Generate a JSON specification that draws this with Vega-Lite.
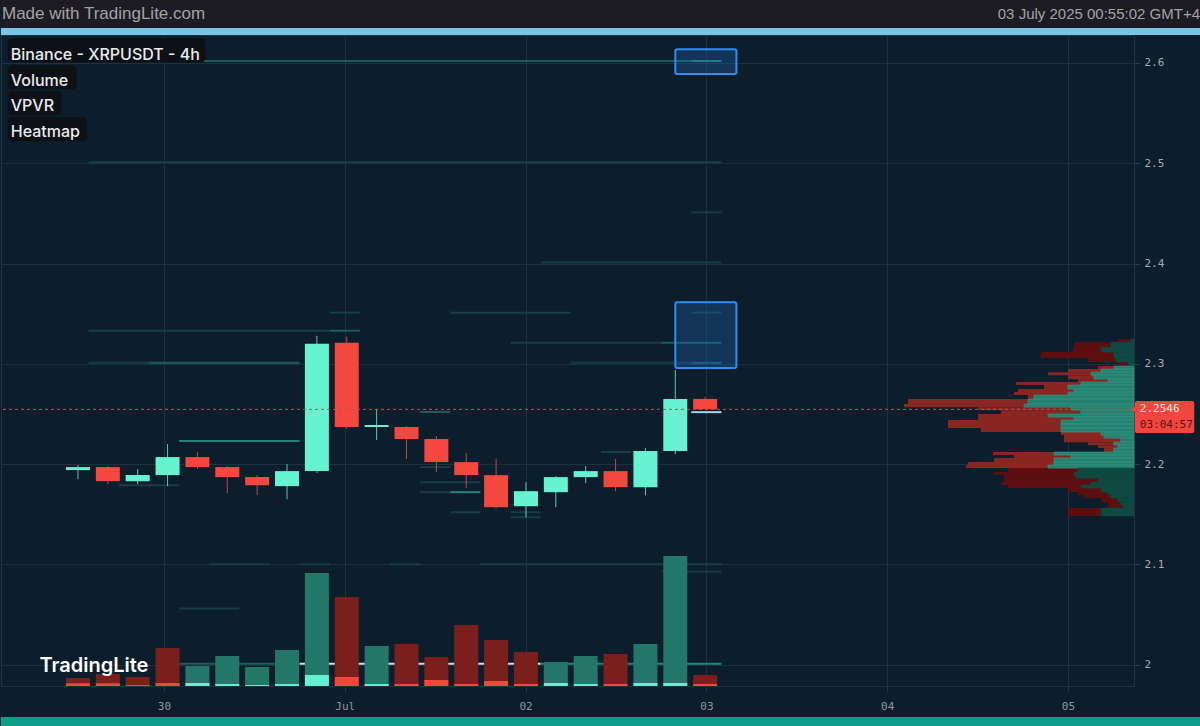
{
  "$schema": "https://vega.github.io/schema/vega-lite/v6.json",
  "background": "#0c1e2b",
  "padding": 0,
  "spacing": 0,
  "bounds": "flush",
  "config": {"view": {"stroke": null}},
  "datasets": {
    "candles": [
      {"t": "2025-06-29T12:00:00Z", "o": 2.194, "h": 2.199, "l": 2.185, "c": 2.197, "vol": 12.3, "base": 4.1, "vd": "sell"},
      {"t": "2025-06-29T16:00:00Z", "o": 2.197, "h": 2.198, "l": 2.180, "c": 2.183, "vol": 18.4, "base": 4.1, "vd": "sell"},
      {"t": "2025-06-29T20:00:00Z", "o": 2.183, "h": 2.195, "l": 2.180, "c": 2.189, "vol": 13.8, "base": 1.5, "vd": "sell"},
      {"t": "2025-06-30T00:00:00Z", "o": 2.189, "h": 2.220, "l": 2.178, "c": 2.207, "vol": 58.4, "base": 4.6, "vd": "sell"},
      {"t": "2025-06-30T04:00:00Z", "o": 2.207, "h": 2.212, "l": 2.195, "c": 2.197, "vol": 30.7, "base": 4.6, "vd": "buy"},
      {"t": "2025-06-30T08:00:00Z", "o": 2.197, "h": 2.198, "l": 2.171, "c": 2.187, "vol": 46.1, "base": 3.1, "vd": "buy"},
      {"t": "2025-06-30T12:00:00Z", "o": 2.187, "h": 2.189, "l": 2.169, "c": 2.179, "vol": 29.2, "base": 1.5, "vd": "buy"},
      {"t": "2025-06-30T16:00:00Z", "o": 2.178, "h": 2.200, "l": 2.165, "c": 2.193, "vol": 55.3, "base": 3.1, "vd": "buy"},
      {"t": "2025-06-30T20:00:00Z", "o": 2.193, "h": 2.328, "l": 2.191, "c": 2.320, "vol": 173.6, "base": 16.9, "vd": "buy"},
      {"t": "2025-07-01T00:00:00Z", "o": 2.321, "h": 2.327, "l": 2.235, "c": 2.237, "vol": 136.7, "base": 13.8, "vd": "sell"},
      {"t": "2025-07-01T04:00:00Z", "o": 2.237, "h": 2.255, "l": 2.224, "c": 2.239, "vol": 61.4, "base": 3.1, "vd": "buy"},
      {"t": "2025-07-01T08:00:00Z", "o": 2.237, "h": 2.238, "l": 2.205, "c": 2.225, "vol": 64.5, "base": 3.1, "vd": "sell"},
      {"t": "2025-07-01T12:00:00Z", "o": 2.225, "h": 2.228, "l": 2.192, "c": 2.202, "vol": 44.5, "base": 9.2, "vd": "sell"},
      {"t": "2025-07-01T16:00:00Z", "o": 2.202, "h": 2.211, "l": 2.176, "c": 2.189, "vol": 93.7, "base": 3.1, "vd": "sell"},
      {"t": "2025-07-01T20:00:00Z", "o": 2.189, "h": 2.205, "l": 2.156, "c": 2.157, "vol": 70.7, "base": 7.7, "vd": "sell"},
      {"t": "2025-07-02T00:00:00Z", "o": 2.158, "h": 2.182, "l": 2.147, "c": 2.173, "vol": 52.2, "base": 3.1, "vd": "sell"},
      {"t": "2025-07-02T04:00:00Z", "o": 2.172, "h": 2.188, "l": 2.157, "c": 2.187, "vol": 36.9, "base": 4.6, "vd": "buy"},
      {"t": "2025-07-02T08:00:00Z", "o": 2.187, "h": 2.198, "l": 2.181, "c": 2.193, "vol": 46.1, "base": 3.1, "vd": "buy"},
      {"t": "2025-07-02T12:00:00Z", "o": 2.193, "h": 2.205, "l": 2.173, "c": 2.177, "vol": 49.2, "base": 3.1, "vd": "sell"},
      {"t": "2025-07-02T16:00:00Z", "o": 2.177, "h": 2.216, "l": 2.169, "c": 2.213, "vol": 64.5, "base": 4.6, "vd": "buy"},
      {"t": "2025-07-02T20:00:00Z", "o": 2.213, "h": 2.294, "l": 2.210, "c": 2.265, "vol": 199.7, "base": 4.6, "vd": "buy"},
      {"t": "2025-07-03T00:00:00Z", "o": 2.265, "h": 2.267, "l": 2.2546, "c": 2.2546, "vol": 16.9, "base": 3.1, "vd": "sell"}
    ],
    "heat": [
      {"p": 2.602, "t0": "2025-06-29T14:00:00Z", "t1": "2025-07-02T22:00:00Z", "c": "m"},
      {"p": 2.602, "t0": "2025-07-02T22:00:00Z", "t1": "2025-07-03T02:00:00Z", "c": "b"},
      {"p": 2.501, "t0": "2025-06-29T14:00:00Z", "t1": "2025-07-03T02:00:00Z", "c": "f"},
      {"p": 2.451, "t0": "2025-07-02T22:00:00Z", "t1": "2025-07-03T02:00:00Z", "c": "f"},
      {"p": 2.401, "t0": "2025-07-02T02:00:00Z", "t1": "2025-07-03T02:00:00Z", "c": "f"},
      {"p": 2.351, "t0": "2025-07-01T14:00:00Z", "t1": "2025-07-02T06:00:00Z", "c": "f"},
      {"p": 2.351, "t0": "2025-07-02T22:00:00Z", "t1": "2025-07-03T02:00:00Z", "c": "f"},
      {"p": 2.351, "t0": "2025-06-30T22:00:00Z", "t1": "2025-07-01T02:00:00Z", "c": "f"},
      {"p": 2.333, "t0": "2025-06-29T14:00:00Z", "t1": "2025-06-30T22:00:00Z", "c": "f"},
      {"p": 2.333, "t0": "2025-06-30T22:00:00Z", "t1": "2025-07-01T02:00:00Z", "c": "m"},
      {"p": 2.321, "t0": "2025-07-01T22:00:00Z", "t1": "2025-07-02T18:00:00Z", "c": "f"},
      {"p": 2.321, "t0": "2025-07-02T18:00:00Z", "t1": "2025-07-03T02:00:00Z", "c": "m"},
      {"p": 2.301, "t0": "2025-06-29T14:00:00Z", "t1": "2025-06-29T22:00:00Z", "c": "f"},
      {"p": 2.301, "t0": "2025-06-29T22:00:00Z", "t1": "2025-06-30T18:00:00Z", "c": "m"},
      {"p": 2.301, "t0": "2025-07-02T06:00:00Z", "t1": "2025-07-02T22:00:00Z", "c": "f"},
      {"p": 2.301, "t0": "2025-07-02T22:00:00Z", "t1": "2025-07-03T02:00:00Z", "c": "m"},
      {"p": 2.223, "t0": "2025-06-30T02:00:00Z", "t1": "2025-06-30T18:00:00Z", "c": "b"},
      {"p": 2.179, "t0": "2025-06-29T18:00:00Z", "t1": "2025-06-30T02:00:00Z", "c": "f"},
      {"p": 2.252, "t0": "2025-07-01T10:00:00Z", "t1": "2025-07-01T14:00:00Z", "c": "m"},
      {"p": 2.197, "t0": "2025-07-01T10:00:00Z", "t1": "2025-07-01T14:00:00Z", "c": "f"},
      {"p": 2.182, "t0": "2025-07-01T10:00:00Z", "t1": "2025-07-01T18:00:00Z", "c": "f"},
      {"p": 2.172, "t0": "2025-07-01T10:00:00Z", "t1": "2025-07-01T14:00:00Z", "c": "f"},
      {"p": 2.172, "t0": "2025-07-01T14:00:00Z", "t1": "2025-07-01T18:00:00Z", "c": "b"},
      {"p": 2.152, "t0": "2025-07-01T14:00:00Z", "t1": "2025-07-01T18:00:00Z", "c": "f"},
      {"p": 2.152, "t0": "2025-07-01T22:00:00Z", "t1": "2025-07-02T02:00:00Z", "c": "f"},
      {"p": 2.147, "t0": "2025-07-01T22:00:00Z", "t1": "2025-07-02T02:00:00Z", "c": "f"},
      {"p": 2.212, "t0": "2025-07-02T10:00:00Z", "t1": "2025-07-02T14:00:00Z", "c": "f"},
      {"p": 2.1, "t0": "2025-06-30T06:00:00Z", "t1": "2025-06-30T14:00:00Z", "c": "f"},
      {"p": 2.1, "t0": "2025-06-30T18:00:00Z", "t1": "2025-06-30T22:00:00Z", "c": "f"},
      {"p": 2.1, "t0": "2025-07-01T06:00:00Z", "t1": "2025-07-01T10:00:00Z", "c": "f"},
      {"p": 2.1, "t0": "2025-07-01T18:00:00Z", "t1": "2025-07-03T02:00:00Z", "c": "f"},
      {"p": 2.056, "t0": "2025-06-30T02:00:00Z", "t1": "2025-06-30T10:00:00Z", "c": "f"},
      {"p": 2.093, "t0": "2025-07-02T18:00:00Z", "t1": "2025-07-03T02:00:00Z", "c": "f"},
      {"p": 2.001, "t0": "2025-06-30T02:00:00Z", "t1": "2025-06-30T18:00:00Z", "c": "m"},
      {"p": 2.001, "t0": "2025-06-30T18:00:00Z", "t1": "2025-07-02T02:00:00Z", "c": "w"},
      {"p": 2.001, "t0": "2025-07-02T02:00:00Z", "t1": "2025-07-03T02:00:00Z", "c": "b"},
      {"p": 2.2518, "t0": "2025-07-02T22:00:00Z", "t1": "2025-07-03T02:00:00Z", "c": "q"}
    ],
    "vpvr": [
      {"hi": 2.3246, "lo": 2.3216, "tot": 14.1, "buy": 2.6, "va": false},
      {"hi": 2.3216, "lo": 2.3166, "tot": 53.0, "buy": 20.3, "va": false},
      {"hi": 2.3166, "lo": 2.3117, "tot": 53.8, "buy": 29.1, "va": false},
      {"hi": 2.3117, "lo": 2.3057, "tot": 82.1, "buy": 17.7, "va": false},
      {"hi": 2.3057, "lo": 2.3017, "tot": 40.6, "buy": 15.9, "va": false},
      {"hi": 2.3017, "lo": 2.2977, "tot": 14.1, "buy": 5.3, "va": false},
      {"hi": 2.2977, "lo": 2.2947, "tot": 31.8, "buy": 17.7, "va": true},
      {"hi": 2.2947, "lo": 2.2917, "tot": 58.3, "buy": 29.1, "va": true},
      {"hi": 2.2917, "lo": 2.2887, "tot": 75.9, "buy": 38.0, "va": true},
      {"hi": 2.2887, "lo": 2.2847, "tot": 58.3, "buy": 35.3, "va": true},
      {"hi": 2.2847, "lo": 2.2818, "tot": 49.4, "buy": 22.9, "va": true},
      {"hi": 2.2818, "lo": 2.2788, "tot": 104.1, "buy": 46.8, "va": true},
      {"hi": 2.2788, "lo": 2.2748, "tot": 79.4, "buy": 58.3, "va": true},
      {"hi": 2.2748, "lo": 2.2718, "tot": 102.4, "buy": 53.0, "va": true},
      {"hi": 2.2718, "lo": 2.2688, "tot": 105.9, "buy": 58.3, "va": true},
      {"hi": 2.2688, "lo": 2.2648, "tot": 93.6, "buy": 88.3, "va": true},
      {"hi": 2.2648, "lo": 2.2598, "tot": 199.5, "buy": 93.6, "va": true},
      {"hi": 2.2598, "lo": 2.2568, "tot": 203.0, "buy": 97.1, "va": true},
      {"hi": 2.2568, "lo": 2.2538, "tot": 137.7, "buy": 55.6, "va": true},
      {"hi": 2.2538, "lo": 2.2499, "tot": 117.4, "buy": 46.8, "va": true},
      {"hi": 2.2499, "lo": 2.2469, "tot": 137.7, "buy": 75.9, "va": true},
      {"hi": 2.2469, "lo": 2.2439, "tot": 137.7, "buy": 53.0, "va": true},
      {"hi": 2.2439, "lo": 2.2399, "tot": 164.2, "buy": 64.4, "va": true},
      {"hi": 2.2399, "lo": 2.2359, "tot": 164.2, "buy": 64.4, "va": true},
      {"hi": 2.2359, "lo": 2.2319, "tot": 135.0, "buy": 64.4, "va": true},
      {"hi": 2.2319, "lo": 2.2289, "tot": 64.4, "buy": 29.1, "va": true},
      {"hi": 2.2289, "lo": 2.2259, "tot": 61.8, "buy": 26.5, "va": true},
      {"hi": 2.2259, "lo": 2.2219, "tot": 61.8, "buy": 11.5, "va": true},
      {"hi": 2.2219, "lo": 2.2189, "tot": 40.6, "buy": 17.7, "va": true},
      {"hi": 2.2189, "lo": 2.2160, "tot": 31.8, "buy": 14.1, "va": true},
      {"hi": 2.2160, "lo": 2.2120, "tot": 26.5, "buy": 17.7, "va": true},
      {"hi": 2.2120, "lo": 2.2090, "tot": 124.4, "buy": 70.6, "va": true},
      {"hi": 2.2090, "lo": 2.2060, "tot": 105.9, "buy": 55.6, "va": true},
      {"hi": 2.2060, "lo": 2.2020, "tot": 123.6, "buy": 70.6, "va": true},
      {"hi": 2.2020, "lo": 2.1990, "tot": 146.5, "buy": 70.6, "va": true},
      {"hi": 2.1990, "lo": 2.1960, "tot": 148.3, "buy": 75.9, "va": true},
      {"hi": 2.1960, "lo": 2.1920, "tot": 111.2, "buy": 49.4, "va": false},
      {"hi": 2.1920, "lo": 2.1890, "tot": 123.6, "buy": 53.0, "va": false},
      {"hi": 2.1890, "lo": 2.1860, "tot": 114.7, "buy": 51.2, "va": false},
      {"hi": 2.1860, "lo": 2.1821, "tot": 114.7, "buy": 31.8, "va": false},
      {"hi": 2.1821, "lo": 2.1791, "tot": 117.4, "buy": 38.0, "va": false},
      {"hi": 2.1791, "lo": 2.1761, "tot": 111.2, "buy": 46.8, "va": false},
      {"hi": 2.1761, "lo": 2.1721, "tot": 58.3, "buy": 29.1, "va": false},
      {"hi": 2.1721, "lo": 2.1691, "tot": 49.4, "buy": 22.9, "va": false},
      {"hi": 2.1691, "lo": 2.1661, "tot": 44.1, "buy": 20.3, "va": false},
      {"hi": 2.1661, "lo": 2.1621, "tot": 29.1, "buy": 14.1, "va": false},
      {"hi": 2.1621, "lo": 2.1591, "tot": 22.9, "buy": 11.5, "va": false},
      {"hi": 2.1591, "lo": 2.1561, "tot": 22.9, "buy": 8.8, "va": false},
      {"hi": 2.1561, "lo": 2.1521, "tot": 58.3, "buy": 29.1, "va": false},
      {"hi": 2.1521, "lo": 2.1482, "tot": 58.3, "buy": 29.1, "va": false}
    ],
    "boxes": [
      {"t0": "2025-07-02T20:00:00Z", "t1": "2025-07-03T04:11:00Z", "p0": 2.6138, "p1": 2.5889},
      {"t0": "2025-07-02T20:00:00Z", "t1": "2025-07-03T04:11:00Z", "p0": 2.3615, "p1": 2.2957}
    ]
  },
  "vconcat": [
    {
      "width": 1200,
      "height": 28,
      "view": {"fill": "#1d1c22", "stroke": null},
      "layer": [
        {
          "data": {"values": [{"s": "Made with TradingLite.com"}]},
          "mark": {"type": "text", "align": "left", "baseline": "middle", "font": "Liberation Sans", "fontSize": 17, "color": "#a2a2a9", "dx": 1},
          "encoding": {
            "x": {"datum": 0, "type": "quantitative", "scale": {"domain": [0, 1]}, "axis": null},
            "text": {"field": "s"}
          }
        },
        {
          "data": {"values": [{"s": "03 July 2025 00:55:02 GMT+4"}]},
          "mark": {"type": "text", "align": "right", "baseline": "middle", "font": "Liberation Sans", "fontSize": 15, "color": "#a2a2a9", "dx": -1},
          "encoding": {
            "x": {"datum": 1, "type": "quantitative", "scale": {"domain": [0, 1]}, "axis": null},
            "text": {"field": "s"}
          }
        }
      ]
    },
    {
      "width": 1200,
      "height": 7,
      "view": {"fill": "#78c5e8", "stroke": null},
      "data": {"values": []},
      "mark": "point"
    },
    {
      "width": 1133,
      "height": 651,
      "view": {"fill": "#0c1e2b", "stroke": "#1c3441"},
      "resolve": {"scale": {"x": "independent", "y": "independent"}},
      "layer": [
        {
          "data": {"name": "heat"},
          "mark": {"type": "rule", "strokeWidth": 2},
          "encoding": {
            "x": {
              "field": "t0", "type": "temporal",
              "scale": {"type": "utc", "domain": [{"year": 2025, "month": 6, "date": 29, "hours": 2, "minutes": 21, "seconds": 48, "utc": true}, {"year": 2025, "month": 7, "date": 5, "hours": 8, "minutes": 45, "seconds": 40, "utc": true}]},
              "axis": {
                "orient": "bottom", "title": null, "zindex": 0,
                "values": [{"year": 2025, "month": 6, "date": 30, "utc": true}, {"year": 2025, "month": 7, "date": 1, "utc": true}, {"year": 2025, "month": 7, "date": 2, "utc": true}, {"year": 2025, "month": 7, "date": 3, "utc": true}, {"year": 2025, "month": 7, "date": 4, "utc": true}, {"year": 2025, "month": 7, "date": 5, "utc": true}],
                "labelExpr": "utcdate(datum.value) == 1 ? utcFormat(datum.value, '%b') : utcFormat(datum.value, '%d')",
                "grid": true, "gridColor": "#1b3340", "gridWidth": 1,
                "domain": false, "ticks": true, "tickColor": "#1f3845", "tickSize": 6,
                "labelFont": "DejaVu Sans Mono", "labelFontSize": 11, "labelColor": "#8e979f", "labelPadding": 8,
                "labelOverlap": false, "labelFlush": false
              }
            },
            "x2": {"field": "t1"},
            "y": {
              "field": "p", "type": "quantitative",
              "scale": {"domain": [1.9787, 2.6279], "nice": false, "zero": false},
              "axis": {
                "orient": "right", "title": null, "zindex": 0,
                "values": [2, 2.1, 2.2, 2.3, 2.4, 2.5, 2.6], "format": "~g",
                "grid": true, "gridColor": "#1b3340", "gridWidth": 1,
                "domain": false, "ticks": true, "tickColor": "#2e4552", "tickSize": 5,
                "labelFont": "DejaVu Sans Mono", "labelFontSize": 11, "labelColor": "#a3acb4", "labelPadding": 5
              }
            },
            "color": {
              "field": "c", "type": "nominal",
              "scale": {"domain": ["f", "m", "b", "w", "q"], "range": ["#173d48", "#1b5d5f", "#208577", "#d3dee5", "#a5d6f0"]},
              "legend": null
            }
          }
        },
        {
          "data": {"name": "candles"},
          "encoding": {
            "x": {"field": "t", "type": "temporal", "scale": {"type": "utc", "domain": [{"year": 2025, "month": 6, "date": 29, "hours": 2, "minutes": 21, "seconds": 48, "utc": true}, {"year": 2025, "month": 7, "date": 5, "hours": 8, "minutes": 45, "seconds": 40, "utc": true}]}, "axis": null}
          },
          "layer": [
            {
              "mark": {"type": "bar", "width": 24},
              "encoding": {
                "y": {"field": "vol", "type": "quantitative", "scale": {"domain": [0, 1000], "nice": false}, "axis": null},
                "color": {"condition": {"test": "datum.vd === 'buy'", "value": "#227768"}, "value": "#7a1f1c"}
              }
            },
            {
              "mark": {"type": "bar", "width": 24},
              "encoding": {
                "y": {"field": "base", "type": "quantitative", "axis": null},
                "color": {"condition": {"test": "datum.vd === 'buy'", "value": "#62f0d0"}, "value": "#f4473c"}
              }
            }
          ]
        },
        {
          "data": {"name": "vpvr"},
          "encoding": {
            "y": {"field": "hi", "type": "quantitative", "scale": {"domain": [1.9787, 2.6279], "nice": false, "zero": false}, "axis": null},
            "y2": {"field": "lo"}
          },
          "layer": [
            {
              "mark": {"type": "rect"},
              "encoding": {
                "x": {"field": "tot", "type": "quantitative", "scale": {"domain": [0, 1000], "reverse": true, "nice": false}, "axis": null},
                "x2": {"datum": 0},
                "color": {"condition": {"test": "datum.va", "value": "#8a2622"}, "value": "#5e0e0e"}
              }
            },
            {
              "mark": {"type": "rect", "strokeWidth": 0.6},
              "encoding": {
                "x": {"field": "buy", "type": "quantitative", "axis": null},
                "x2": {"datum": 0},
                "color": {"condition": {"test": "datum.va", "value": "#24806f"}, "value": "#0f4a42"},
                "stroke": {"condition": {"test": "datum.va", "value": "#3b9a8c"}, "value": "#0f4a42"}
              }
            }
          ]
        },
        {
          "layer": [
            {
              "data": {"name": "candles"},
              "mark": {"type": "rule", "strokeWidth": 1},
              "encoding": {
                "x": {"field": "t", "type": "temporal", "scale": {"type": "utc", "domain": [{"year": 2025, "month": 6, "date": 29, "hours": 2, "minutes": 21, "seconds": 48, "utc": true}, {"year": 2025, "month": 7, "date": 5, "hours": 8, "minutes": 45, "seconds": 40, "utc": true}]}, "axis": null},
                "y": {"field": "l", "type": "quantitative", "scale": {"domain": [1.9787, 2.6279], "nice": false, "zero": false}, "axis": null},
                "y2": {"field": "h"},
                "color": {"condition": {"test": "datum.c >= datum.o", "value": "#5cc8b2"}, "value": "#c4473f"}
              }
            },
            {
              "data": {"name": "candles"},
              "mark": {"type": "bar", "width": 24},
              "encoding": {
                "x": {"field": "t", "type": "temporal", "axis": null},
                "y": {"field": "o", "type": "quantitative", "axis": null},
                "y2": {"field": "c"},
                "color": {"condition": {"test": "datum.c >= datum.o", "value": "#66f3d2"}, "value": "#f4473d"}
              }
            },
            {
              "data": {"values": [{}]},
              "mark": {"type": "rule", "color": "#d04850", "strokeDash": [3, 3], "strokeWidth": 1},
              "encoding": {"y": {"datum": 2.2546, "type": "quantitative"}}
            },
            {
              "data": {"name": "boxes"},
              "mark": {"type": "rect", "fill": "#1f6fc8", "fillOpacity": 0.28, "stroke": "#2f8ef0", "strokeWidth": 2, "cornerRadius": 2},
              "encoding": {
                "x": {"field": "t0", "type": "temporal"},
                "x2": {"field": "t1"},
                "y": {"field": "p0", "type": "quantitative"},
                "y2": {"field": "p1"}
              }
            },
            {
              "data": {"values": [{}]},
              "mark": {"type": "rect", "fill": "#0d1116", "cornerRadius": 4},
              "encoding": {
                "x": {"datum": {"year": 2025, "month": 6, "date": 29, "hours": 2, "minutes": 38, "utc": true}, "type": "temporal"},
                "x2": {"datum": {"year": 2025, "month": 6, "date": 30, "hours": 5, "minutes": 3, "utc": true}},
                "y": {"datum": 2.6247, "type": "quantitative"},
                "y2": {"datum": 2.6008}
              }
            },
            {
              "data": {"values": [{}]},
              "mark": {"type": "rect", "fill": "#0d1116", "cornerRadius": 4},
              "encoding": {
                "x": {"datum": {"year": 2025, "month": 6, "date": 29, "hours": 2, "minutes": 38, "utc": true}, "type": "temporal"},
                "x2": {"datum": {"year": 2025, "month": 6, "date": 29, "hours": 11, "minutes": 47, "utc": true}},
                "y": {"datum": 2.5978, "type": "quantitative"},
                "y2": {"datum": 2.5739}
              }
            },
            {
              "data": {"values": [{}]},
              "mark": {"type": "rect", "fill": "#0d1116", "cornerRadius": 4},
              "encoding": {
                "x": {"datum": {"year": 2025, "month": 6, "date": 29, "hours": 2, "minutes": 38, "utc": true}, "type": "temporal"},
                "x2": {"datum": {"year": 2025, "month": 6, "date": 29, "hours": 9, "minutes": 48, "utc": true}},
                "y": {"datum": 2.5719, "type": "quantitative"},
                "y2": {"datum": 2.548}
              }
            },
            {
              "data": {"values": [{}]},
              "mark": {"type": "rect", "fill": "#0d1116", "cornerRadius": 4},
              "encoding": {
                "x": {"datum": {"year": 2025, "month": 6, "date": 29, "hours": 2, "minutes": 38, "utc": true}, "type": "temporal"},
                "x2": {"datum": {"year": 2025, "month": 6, "date": 29, "hours": 13, "minutes": 15, "utc": true}},
                "y": {"datum": 2.546, "type": "quantitative"},
                "y2": {"datum": 2.522}
              }
            },
            {
              "data": {"values": [{}]},
              "mark": {"type": "text", "align": "left", "baseline": "middle", "font": "Inter", "fontSize": 16, "fontWeight": 500, "color": "#e9ebed", "text": "Binance - XRPUSDT - 4h"},
              "encoding": {
                "x": {"datum": {"year": 2025, "month": 6, "date": 29, "hours": 3, "minutes": 0, "utc": true}, "type": "temporal"},
                "y": {"datum": 2.6083, "type": "quantitative"}
              }
            },
            {
              "data": {"values": [{}]},
              "mark": {"type": "text", "align": "left", "baseline": "middle", "font": "Inter", "fontSize": 16, "fontWeight": 500, "color": "#e9ebed", "text": "Volume"},
              "encoding": {
                "x": {"datum": {"year": 2025, "month": 6, "date": 29, "hours": 3, "minutes": 0, "utc": true}, "type": "temporal"},
                "y": {"datum": 2.5825, "type": "quantitative"}
              }
            },
            {
              "data": {"values": [{}]},
              "mark": {"type": "text", "align": "left", "baseline": "middle", "font": "Inter", "fontSize": 16, "fontWeight": 500, "color": "#e9ebed", "text": "VPVR"},
              "encoding": {
                "x": {"datum": {"year": 2025, "month": 6, "date": 29, "hours": 3, "minutes": 0, "utc": true}, "type": "temporal"},
                "y": {"datum": 2.5569, "type": "quantitative"}
              }
            },
            {
              "data": {"values": [{}]},
              "mark": {"type": "text", "align": "left", "baseline": "middle", "font": "Inter", "fontSize": 16, "fontWeight": 500, "color": "#e9ebed", "text": "Heatmap"},
              "encoding": {
                "x": {"datum": {"year": 2025, "month": 6, "date": 29, "hours": 3, "minutes": 0, "utc": true}, "type": "temporal"},
                "y": {"datum": 2.531, "type": "quantitative"}
              }
            },
            {
              "data": {"values": [{}]},
              "mark": {"type": "text", "align": "left", "baseline": "middle", "font": "Inter", "fontSize": 20, "fontWeight": 600, "color": "#ffffff", "text": "TradingLite"},
              "encoding": {
                "x": {"datum": {"year": 2025, "month": 6, "date": 29, "hours": 6, "minutes": 50, "utc": true}, "type": "temporal"},
                "y": {"datum": 1.9986, "type": "quantitative"}
              }
            },
            {
              "data": {"values": [{}]},
              "mark": {"type": "rect", "fill": "#f0463e", "cornerRadius": 2},
              "encoding": {
                "x": {"datum": {"year": 2025, "month": 7, "date": 5, "hours": 9, "minutes": 33, "utc": true}, "type": "temporal"},
                "x2": {"datum": {"year": 2025, "month": 7, "date": 5, "hours": 17, "minutes": 30, "utc": true}},
                "y": {"datum": 2.2628, "type": "quantitative"},
                "y2": {"datum": 2.2309}
              }
            },
            {
              "data": {"values": [{}]},
              "mark": {"type": "point", "shape": "triangle-left", "filled": true, "size": 60, "color": "#f0463e", "opacity": 1},
              "encoding": {
                "x": {"datum": {"year": 2025, "month": 7, "date": 5, "hours": 9, "minutes": 25, "utc": true}, "type": "temporal"},
                "y": {"datum": 2.2546, "type": "quantitative"}
              }
            },
            {
              "data": {"values": [{}]},
              "mark": {"type": "text", "align": "left", "baseline": "middle", "font": "DejaVu Sans Mono", "fontSize": 11, "color": "#ffe9e6", "text": "2.2546"},
              "encoding": {
                "x": {"datum": {"year": 2025, "month": 7, "date": 5, "hours": 10, "minutes": 13, "utc": true}, "type": "temporal"},
                "y": {"datum": 2.2546, "type": "quantitative"}
              }
            },
            {
              "data": {"values": [{}]},
              "mark": {"type": "text", "align": "left", "baseline": "middle", "font": "DejaVu Sans Mono", "fontSize": 11, "color": "#5c1210", "text": "03:04:57"},
              "encoding": {
                "x": {"datum": {"year": 2025, "month": 7, "date": 5, "hours": 10, "minutes": 13, "utc": true}, "type": "temporal"},
                "y": {"datum": 2.2389, "type": "quantitative"}
              }
            }
          ]
        }
      ]
    },
    {
      "width": 1200,
      "height": 31,
      "view": {"fill": null, "stroke": null},
      "data": {"values": []},
      "mark": "point"
    },
    {
      "width": 1200,
      "height": 9,
      "view": {"fill": "#0f9d8c", "stroke": null},
      "data": {"values": []},
      "mark": "point"
    }
  ]
}
